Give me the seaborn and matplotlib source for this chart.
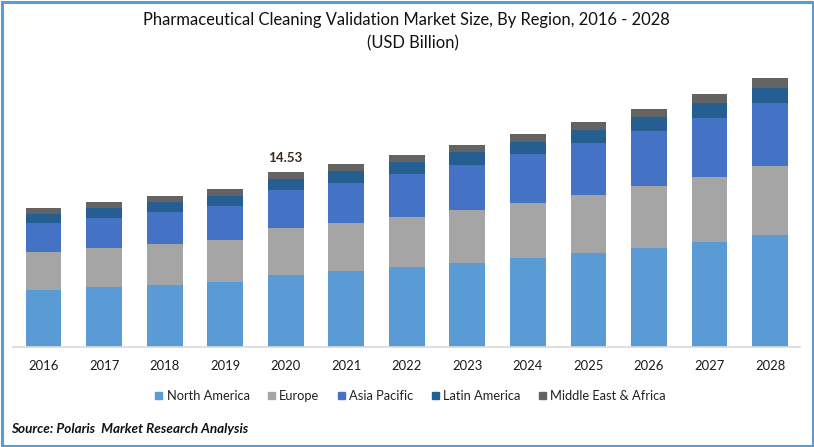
import matplotlib
matplotlib.use("Agg")
import pandas as pd
import seaborn as sns
from matplotlib import pyplot as plt
from matplotlib.patches import Patch, Rectangle

years = [2016, 2017, 2018, 2019, 2020, 2021, 2022, 2023, 2024, 2025, 2026, 2027, 2028]
north_america = [4.73, 4.98, 5.15, 5.40, 5.98, 6.31, 6.64, 6.97, 7.39, 7.80, 8.22, 8.72, 9.30]
europe = [3.16, 3.24, 3.40, 3.49, 3.90, 3.99, 4.15, 4.40, 4.57, 4.82, 5.15, 5.40, 5.73]
asia_pacific = [2.41, 2.49, 2.66, 2.82, 3.16, 3.32, 3.57, 3.74, 4.07, 4.32, 4.57, 4.90, 5.23]
latin_america = [0.75, 0.83, 0.83, 0.83, 0.91, 1.00, 1.00, 1.08, 1.00, 1.08, 1.16, 1.25, 1.25]
middle_east = [0.50, 0.50, 0.50, 0.58, 0.58, 0.58, 0.58, 0.58, 0.66, 0.66, 0.66, 0.75, 0.83]

regions = ["North America", "Europe", "Asia Pacific", "Latin America", "Middle East & Africa"]
colors = ["#5B9BD5", "#A5A5A5", "#4472C4", "#255E91", "#636363"]

sns.set_style("white")
plt.rcParams["font.family"] = ["Lato", "DejaVu Sans"]

W, H = 814, 447
fig = plt.figure(figsize=(W / 100, H / 100), dpi=100)
ax = fig.add_axes([13.3 / W, 1 - 347 / H, (800 - 13) / W, (347 - 62) / H])

df = pd.DataFrame({"year": years * 5,
                   "region": sum([[r] * len(years) for r in regions], []),
                   "value": north_america + europe + asia_pacific + latin_america + middle_east})

# histplot stacks the first hue on top
sns.histplot(data=df, x="year", hue="region", weights="value", multiple="stack",
             discrete=True, shrink=0.59, hue_order=regions[::-1],
             palette=dict(zip(regions, colors)), alpha=1, linewidth=0, legend=False, ax=ax)

ax.set_xlim(2015.5, 2028.5)
ax.set_ylim(0, 285 * 14.53 / 175)
ax.set_xticks(years)
ax.set_xticklabels(years)
ax.set_yticks([])
ax.set_xlabel("")
ax.set_ylabel("")
sns.despine(ax=ax, left=True)
ax.spines["bottom"].set_color("#D9D9D9")
ax.spines["bottom"].set_linewidth(1.2)
ax.tick_params(axis="x", length=0, pad=9, labelsize=9.4, labelcolor="#1a1a1a")

ax.annotate("14.53", (2020, 14.53), xytext=(0, 6), textcoords="offset points", ha="center",
            va="bottom", fontsize=9.6, fontweight="bold", color="#3b2a20")

fig.text(406 / W, 1 - 20 / H, "Pharmaceutical Cleaning Validation Market Size, By Region, 2016 - 2028",
         ha="center", va="center", fontsize=11.9, color="#111111")
fig.text(413 / W, 1 - 43 / H, "(USD Billion)", ha="center", va="center", fontsize=11.9, color="#111111")
fig.text(11 / W, 1 - 429 / H, "Source: Polaris  Market Research Analysis", ha="left", va="center",
         fontsize=9.7, fontweight="bold", fontstyle="italic", color="#111111")

handles = [Patch(color=c, label=r) for r, c in zip(regions, colors)]
fig.legend(handles=handles, loc="center", bbox_to_anchor=(410.5 / W, 1 - 396 / H), ncol=5, frameon=False,
           fontsize=9.3, handlelength=0.55, handleheight=0.55, handletextpad=0.35, columnspacing=1.4,
           labelcolor="#222222")

fig.add_artist(Rectangle((1.5 / W, 1.5 / H), (W - 3) / W, (H - 3) / H, transform=fig.transFigure,
                         fill=False, edgecolor="#5B9BD5", linewidth=2.2))

fig.savefig("out.png", dpi=100, facecolor="white")
